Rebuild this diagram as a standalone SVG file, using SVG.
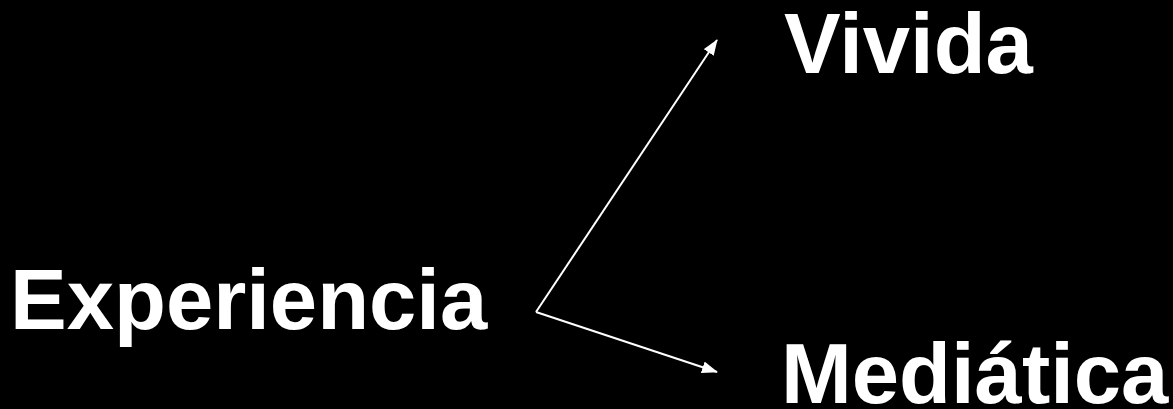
<svg xmlns="http://www.w3.org/2000/svg" width="1173" height="409" viewBox="0 0 1173 409">
<style>
.t{font-family:"Liberation Sans",Arial,sans-serif;font-weight:bold;font-size:85px;fill:#fff}
.c{stroke:#fff;stroke-width:2;fill:none}
</style>
<defs>
<marker id="ah" viewBox="0 0 16 12" refX="15" refY="6" markerWidth="16" markerHeight="12" markerUnits="userSpaceOnUse" orient="auto">
<path d="M0,0 L16,6 L0,12 Z" fill="#fff"/>
</marker>
</defs>
<rect width="1173" height="409" fill="#000"/>
<g id="experiencia"><text class="t" x="10" y="329">Experiencia</text></g>
<g id="vivida"><text class="t" x="784" y="73">Vivida</text></g>
<g id="mediatica"><text class="t" x="781" y="403">Mediática</text></g>
<g id="connectors">
<line class="c" x1="536" y1="312" x2="717" y2="40" marker-end="url(#ah)"/>
<line class="c" x1="536" y1="312" x2="717" y2="372" marker-end="url(#ah)"/>
</g>
</svg>
